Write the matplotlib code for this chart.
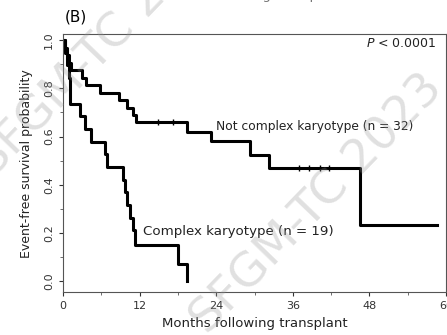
import matplotlib
matplotlib.use("Agg")
import matplotlib.pyplot as plt
import numpy as np

plt.rcParams['font.family'] = ['DejaVu Sans']

# Kaplan-Meier estimates (months, event-free survival)
nck_times = [0, 0.3, 0.6, 0.9, 1.2, 3.0, 3.6, 5.8, 8.7, 10.0, 11.0, 11.5, 19.4, 23.1, 29.3, 32.3, 46.5, 58.6]
nck_surv = [1.0, 0.969, 0.938, 0.906, 0.875, 0.844, 0.812, 0.781, 0.75, 0.719, 0.688, 0.66, 0.62, 0.58, 0.525, 0.47, 0.233, 0.233]
nck_censor_t = [14.8, 17.2, 37.0, 38.6, 40.2, 41.7]
nck_censor_s = [0.66, 0.66, 0.47, 0.47, 0.47, 0.47]

ck_times = [0, 0.3, 0.6, 0.9, 1.1, 2.7, 3.5, 4.4, 6.6, 6.9, 9.4, 9.7, 10.0, 10.5, 10.9, 11.3, 18.0, 19.4]
ck_surv = [1.0, 0.947, 0.895, 0.842, 0.737, 0.684, 0.632, 0.579, 0.526, 0.474, 0.421, 0.368, 0.316, 0.263, 0.211, 0.15, 0.07, 0.0]

x_ticks = [0, 12, 24, 36, 48, 60]
y_ticks = [0.0, 0.2, 0.4, 0.6, 0.8, 1.0]

fig = plt.figure(figsize=(4.47, 3.35), dpi=100)
ax = fig.add_axes([0.141, 0.128, 0.857, 0.77])

ax.step(nck_times, nck_surv, where='post', color='black', lw=2.2)
ax.step(ck_times, ck_surv, where='post', color='black', lw=2.2)
ax.plot(nck_censor_t, nck_censor_s, ls='none', marker='|', color='black', ms=5, mew=1)

ax.set_xlim(0, 60)
ax.set_ylim(-0.046, 1.025)
ax.set_xticks(x_ticks)
ax.set_xticks(np.arange(0, 61, 6), minor=True)
ax.set_yticks(y_ticks)
ax.set_yticks(np.arange(0, 1.01, 0.1), minor=True)
ax.set_yticklabels([f"{v:.1f}" for v in y_ticks], rotation=90, va='center')
ax.tick_params(labelsize=8, colors='#333333', length=3, width=0.8, direction='out')
ax.tick_params(which='minor', length=2, width=0.6, colors='#555555')
for s in ax.spines.values():
    s.set_color('#555555')
    s.set_linewidth(0.8)

ax.set_xlabel("Months following transplant", fontsize=9.5, color='#222222', labelpad=4)
ax.set_ylabel("Event-free survival probability", fontsize=9, color='#222222', labelpad=8)

ax.text(24.0, 0.615, "Not complex karyotype (n = 32)", fontsize=8.8, color='#222222', va='bottom')
ax.text(12.5, 0.205, "Complex karyotype (n = 19)", fontsize=9.6, color='#222222', va='center')
ax.text(58.5, 0.985, r"$\it{P}$ < 0.0001", fontsize=9, color='#222222', ha='right', va='center')

fig.text(0.145, 0.95, "(B)", fontsize=11, color='black', va='center')
# bottom edge of the panel above
fig.text(0.56, 1.014, "Months following transplant", fontsize=9.5, color='#777777', ha='center', va='center')

# watermark
wm = dict(fontsize=34, color='#9a9a9a', alpha=0.3, rotation=46, ha='center', va='center')
fig.text(0.71, 0.39, "SFGM-TC 2023", **wm)
fig.text(0.23, 0.86, "SFGM-TC 2023", **wm)

fig.savefig("out.png", dpi=100)
